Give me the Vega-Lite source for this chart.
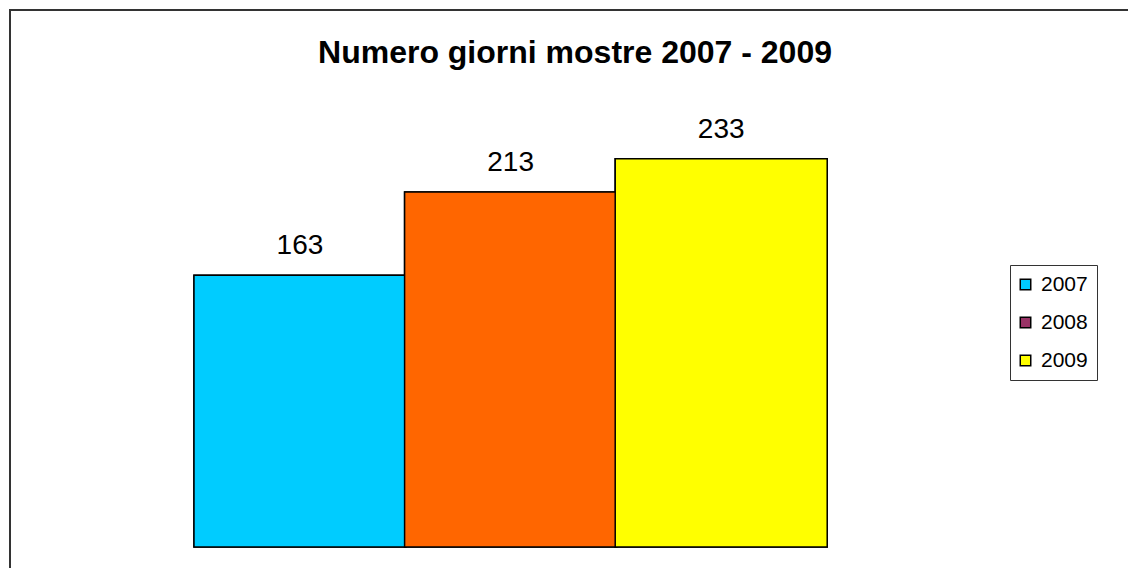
{
  "$schema": "https://vega.github.io/schema/vega-lite/v6.json",
  "width": 1130,
  "height": 580,
  "autosize": {"type": "none"},
  "padding": {"left": 10, "top": 10, "right": 0, "bottom": 0},
  "background": "white",
  "config": {
    "view": {"stroke": "#333333", "strokeWidth": 2},
    "font": "Liberation Sans"
  },
  "title": {
    "text": "Numero giorni mostre 2007 - 2009",
    "font": "Liberation Sans",
    "fontSize": 32,
    "fontWeight": "bold",
    "color": "black",
    "anchor": "middle",
    "frame": "group",
    "baseline": "alphabetic",
    "offset": -85
  },
  "data": {
    "values": [
      {"anno": 2007, "giorni": 163},
      {"anno": 2008, "giorni": 213},
      {"anno": 2009, "giorni": 233}
    ]
  },
  "encoding": {
    "x": {
      "field": "anno",
      "type": "quantitative",
      "axis": null,
      "scale": {"domain": [2005.647, 2010.9646], "nice": false, "zero": false}
    },
    "y": {
      "field": "giorni",
      "type": "quantitative",
      "axis": null,
      "scale": {"domain": [-25.8, 322.2], "nice": false, "zero": false}
    }
  },
  "layer": [
    {
      "mark": {"type": "bar", "width": 212, "stroke": "black", "strokeWidth": 1.5},
      "encoding": {
        "y2": {"datum": 0},
        "fill": {
          "field": "anno",
          "type": "nominal",
          "scale": {"range": ["#00CCFF", "#993366", "#FFFF00"]},
          "legend": {
            "title": null,
            "orient": "none",
            "legendX": 1000,
            "legendY": 255,
            "symbolType": "square",
            "symbolSize": 110,
            "symbolStrokeColor": "black",
            "symbolStrokeWidth": 1.5,
            "symbolOpacity": 1,
            "symbolOffset": -4,
            "labelFont": "Liberation Sans",
            "labelFontSize": 21,
            "labelColor": "black",
            "labelOffset": 5,
            "rowPadding": 16,
            "padding": 9,
            "strokeColor": "#333333",
            "fillColor": "white"
          }
        }
      }
    },
    {
      "mark": {"type": "bar", "width": 212, "stroke": "black", "strokeWidth": 1.5},
      "encoding": {
        "y2": {"datum": 0},
        "fill": {
          "field": "anno",
          "type": "nominal",
          "scale": {"range": ["#00CCFF", "#FF6600", "#FFFF00"]},
          "legend": null
        }
      }
    },
    {
      "mark": {
        "type": "text",
        "baseline": "alphabetic",
        "dy": -21,
        "fontSize": 28,
        "font": "Liberation Sans",
        "color": "black"
      },
      "encoding": {"text": {"field": "giorni", "type": "quantitative"}}
    }
  ],
  "resolve": {"scale": {"fill": "independent"}, "legend": {"fill": "independent"}}
}
